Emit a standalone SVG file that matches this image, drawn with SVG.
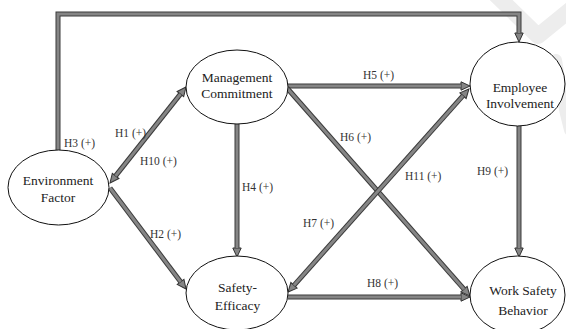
<svg xmlns="http://www.w3.org/2000/svg" width="566" height="329" viewBox="0 0 566 329">
<style>
.node ellipse{fill:#fff;stroke:#111;stroke-width:1}
.node text{font-family:"Liberation Serif","Times New Roman",serif;font-size:13.5px;fill:#222;text-anchor:middle}
.lbl{font-family:"Liberation Serif","Times New Roman",serif;font-size:11.5px;fill:#333}
.o{fill:none;stroke:#3a3a3a;stroke-width:5;stroke-linejoin:miter}
.i{fill:none;stroke:#858585;stroke-width:3;stroke-linejoin:miter}
</style>
<defs>
<marker id="ah" viewBox="0 -6 12 12" refX="0" refY="0" markerWidth="12" markerHeight="12" markerUnits="userSpaceOnUse" orient="auto-start-reverse" overflow="visible">
<path d="M0,-4.2 L9,0 L0,4.2 Z" fill="#858585" stroke="#333" stroke-width="1"/>
</marker>
</defs>
<rect width="566" height="329" fill="#fff"/>
<g id="watermark" fill="none" stroke="#ededed" stroke-linecap="round" stroke-linejoin="round">
<path d="M495,-6 L538,36 L570,10" stroke-width="16"/>
<path d="M556,60 Q562,100 570,130" stroke-width="12"/>
</g>
<g id="connectors">
<path class="o" d="M58,150 V14 H519 V33" marker-end="url(#ah)"/>
<path class="i" d="M58,150 V14 H519 V33"/>
<path class="o" d="M115.6,175.9 L180.4,94.1" marker-start="url(#ah)" marker-end="url(#ah)"/>
<path class="i" d="M115.6,175.9 L180.4,94.1"/>
<path class="o" d="M110,188 L180.6,281.8" marker-end="url(#ah)"/>
<path class="i" d="M110,188 L180.6,281.8"/>
<path class="o" d="M237,124 V248" marker-end="url(#ah)"/>
<path class="i" d="M237,124 V248"/>
<path class="o" d="M287,86 H461" marker-end="url(#ah)"/>
<path class="i" d="M287,86 H461"/>
<path class="o" d="M287,88 L464,289.2" marker-end="url(#ah)"/>
<path class="i" d="M287,88 L464,289.2"/>
<path class="o" d="M294,285.3 L463,95.7" marker-start="url(#ah)" marker-end="url(#ah)"/>
<path class="i" d="M294,285.3 L463,95.7"/>
<path class="o" d="M288,297 H461" marker-end="url(#ah)"/>
<path class="i" d="M288,297 H461"/>
<path class="o" d="M519,126 V248" marker-end="url(#ah)"/>
<path class="i" d="M519,126 V248"/>
</g>
<g id="labels">
<text class="lbl" x="64" y="147">H3 (+)</text>
<text class="lbl" x="115" y="137">H1 (+)</text>
<text class="lbl" x="140" y="165">H10 (+)</text>
<text class="lbl" x="150" y="238">H2 (+)</text>
<text class="lbl" x="242" y="191">H4 (+)</text>
<text class="lbl" x="363" y="79">H5 (+)</text>
<text class="lbl" x="340" y="141">H6 (+)</text>
<text class="lbl" x="405" y="180">H11 (+)</text>
<text class="lbl" x="477" y="175">H9 (+)</text>
<text class="lbl" x="303" y="227">H7 (+)</text>
<text class="lbl" x="367" y="287">H8 (+)</text>
</g>
<g id="environment" class="node">
<ellipse cx="58.5" cy="187.5" rx="50.5" ry="37.5"/>
<text x="58" y="185">Environment</text>
<text x="58" y="202">Factor</text>
</g>
<g id="management" class="node">
<ellipse cx="237" cy="87" rx="51" ry="37"/>
<text x="237" y="82">Management</text>
<text x="237" y="98">Commitment</text>
</g>
<g id="employee" class="node">
<ellipse cx="517.5" cy="84" rx="47.5" ry="42"/>
<text x="520" y="92">Employee</text>
<text x="520" y="108">Involvement</text>
</g>
<g id="safety" class="node">
<ellipse cx="237" cy="293" rx="51" ry="37"/>
<text x="237.5" y="292">Safety-</text>
<text x="237.5" y="310">Efficacy</text>
</g>
<g id="worksafety" class="node">
<ellipse cx="517.5" cy="295" rx="47.5" ry="39"/>
<text x="523" y="295">Work Safety</text>
<text x="523" y="315">Behavior</text>
</g>
</svg>
